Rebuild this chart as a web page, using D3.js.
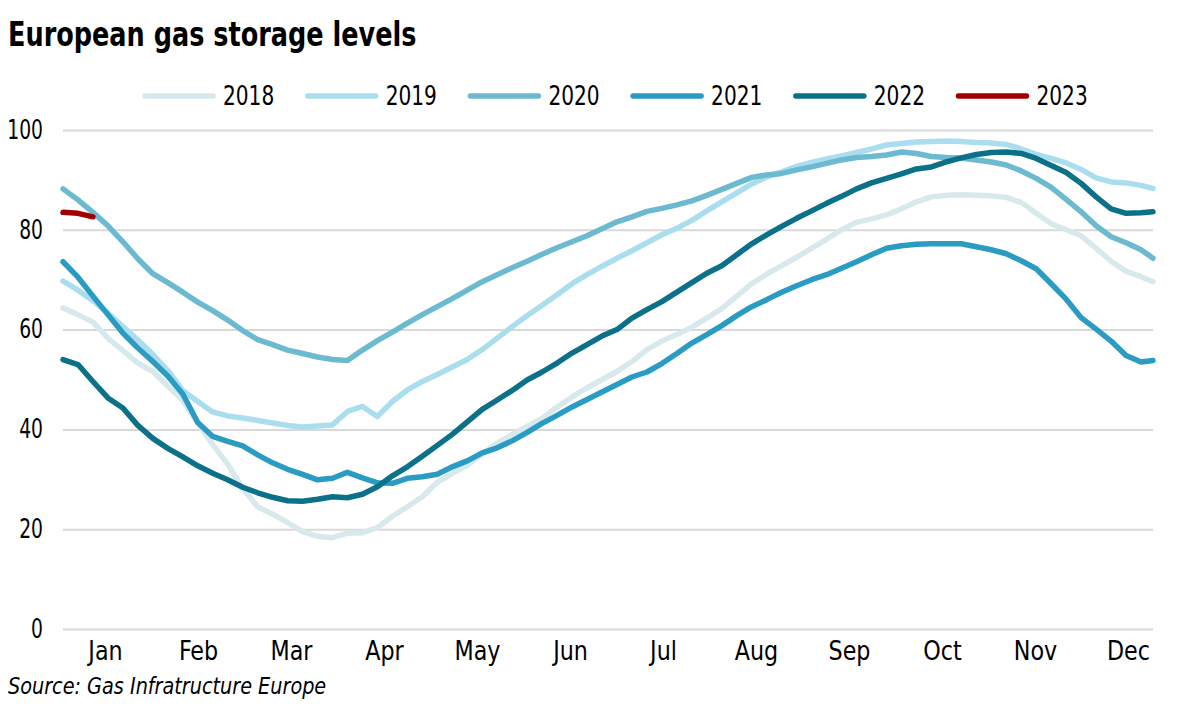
<!DOCTYPE html>
<html>
<head>
<meta charset="utf-8">
<script src="https://cdn.jsdelivr.net/npm/d3@7"></script>
<style>
  body { margin: 0; background: #fff; }
  svg { display: block; font-family: "DejaVu Sans Condensed", "DejaVu Sans", sans-serif; }
  .grid line { stroke: #d9d9d9; stroke-width: 2; }
  .axis text { font-size: 26px; fill: #000; }
</style>
</head>
<body>
<script>
var w = 1200;
var h = 706;

// day of year for every sample (5 day steps)
var days = [1, 6, 11, 16, 21, 26, 31, 36, 41, 46, 51, 56, 61, 66, 71, 76, 81, 86, 91, 96,
  101, 106, 111, 116, 121, 126, 131, 136, 141, 146, 151, 156, 161, 166, 171, 176, 181, 186, 191, 196,
  201, 206, 211, 216, 221, 226, 231, 236, 241, 246, 251, 256, 261, 266, 271, 276, 281, 286, 291, 296,
  301, 306, 311, 316, 321, 326, 331, 336, 341, 346, 351, 356, 361, 365];

var months = ["Jan", "Feb", "Mar", "Apr", "May", "Jun", "Jul", "Aug", "Sep", "Oct", "Nov", "Dec"];
var yTicks = [0, 20, 40, 60, 80, 100];
var years = ["2018", "2019", "2020", "2021", "2022", "2023"];

var s2018 = [64.3, 63.0, 61.5, 58.3, 55.8, 53.3, 51.6, 48.7, 45.8, 41.3, 37.0, 33.0, 28.2, 24.5, 23.0, 21.3, 19.5, 18.6, 18.3, 19.2,
  19.3, 20.3, 22.6, 24.5, 26.5, 29.4, 31.2, 32.8, 35.1, 37.2, 39.0, 40.6, 42.2, 44.5, 46.5, 48.3, 50.0, 51.6, 53.6, 56.0,
  57.7, 59.0, 60.5, 62.3, 64.2, 66.7, 69.2, 71.1, 72.8, 74.5, 76.3, 78.1, 80.0, 81.5, 82.2, 83.0, 84.2, 85.6, 86.6, 86.9,
  87.0, 86.9, 86.8, 86.5, 85.5, 83.3, 81.2, 80.0, 78.8, 76.3, 73.7, 71.7, 70.6, 69.6];

var s2019 = [69.7, 67.9, 65.8, 63.3, 60.6, 57.9, 55.0, 51.8, 47.8, 45.6, 43.5, 42.7, 42.3, 41.8, 41.3, 40.8, 40.5, 40.7, 40.9, 43.6,
  44.6, 42.6, 45.6, 47.9, 49.6, 51.0, 52.5, 54.0, 56.0, 58.3, 60.6, 62.8, 64.9, 67.0, 69.2, 71.0, 72.7, 74.3, 75.8, 77.4,
  79.0, 80.3, 81.9, 83.8, 85.6, 87.4, 89.2, 90.6, 91.6, 92.7, 93.5, 94.2, 94.8, 95.5, 96.2, 97.0, 97.3, 97.6, 97.7, 97.8,
  97.7, 97.5, 97.4, 97.1, 96.2, 95.1, 94.3, 93.4, 92.1, 90.4, 89.6, 89.4, 88.9, 88.3];

var s2020 = [88.2, 86.0, 83.5, 80.8, 77.6, 74.2, 71.2, 69.4, 67.5, 65.5, 63.8, 61.9, 59.8, 58.0, 57.0, 55.9, 55.2, 54.5, 54.0, 53.8,
  55.9, 57.8, 59.5, 61.3, 63.0, 64.6, 66.2, 67.9, 69.6, 71.0, 72.4, 73.7, 75.1, 76.4, 77.6, 78.8, 80.2, 81.6, 82.6, 83.7,
  84.3, 85.0, 85.8, 86.9, 88.1, 89.3, 90.5, 91.0, 91.3, 92.0, 92.6, 93.3, 94.0, 94.5, 94.7, 95.0, 95.6, 95.3, 94.7, 94.5,
  94.4, 94.0, 93.6, 93.0, 91.8, 90.3, 88.5, 86.1, 83.6, 80.8, 78.6, 77.4, 76.0, 74.3];

var s2021 = [73.6, 70.5, 66.7, 63.0, 59.3, 56.3, 53.6, 50.7, 47.1, 41.4, 38.6, 37.6, 36.7, 34.9, 33.3, 32.0, 31.0, 29.9, 30.2, 31.4,
  30.3, 29.3, 29.2, 30.2, 30.5, 31.0, 32.5, 33.7, 35.3, 36.3, 37.7, 39.4, 41.2, 42.8, 44.5, 46.0, 47.5, 49.0, 50.5, 51.5,
  53.2, 55.2, 57.3, 59.0, 60.8, 62.8, 64.6, 66.0, 67.5, 68.8, 70.0, 71.0, 72.3, 73.6, 75.0, 76.3, 76.8, 77.1, 77.2, 77.2,
  77.2, 76.6, 76.0, 75.2, 73.8, 72.2, 69.2, 66.1, 62.4, 60.1, 57.7, 54.8, 53.5, 53.8];

var s2022 = [54.0, 53.0, 49.6, 46.3, 44.3, 40.8, 38.2, 36.2, 34.5, 32.7, 31.2, 29.9, 28.4, 27.3, 26.4, 25.7, 25.6, 26.0, 26.5, 26.3,
  27.0, 28.5, 30.7, 32.5, 34.6, 36.8, 39.0, 41.5, 44.0, 45.9, 47.8, 49.9, 51.5, 53.3, 55.3, 57.0, 58.7, 60.0, 62.3, 64.0,
  65.6, 67.5, 69.4, 71.3, 72.8, 75.0, 77.2, 79.0, 80.7, 82.3, 83.8, 85.3, 86.7, 88.2, 89.4, 90.3, 91.2, 92.2, 92.6, 93.6,
  94.4, 95.1, 95.5, 95.6, 95.3, 94.3, 92.9, 91.5, 89.3, 86.6, 84.2, 83.3, 83.4, 83.6];

var s2023 = [83.5, 83.3, 82.6];

var series = [s2018, s2019, s2020, s2021, s2022, s2023];
var colors = ["#d7e9ed", "#aadeee", "#6cbad0", "#2a9cc3", "#0b7189", "#a00000"];

// squeeze text horizontally to mimic the narrow font of the original
function condense(sel, k) {
  sel.each(function () {
    var len = this.getComputedTextLength();
    d3.select(this).attr("textLength", len * k).attr("lengthAdjust", "spacingAndGlyphs");
  });
}

// Scales
var xScale = d3.scaleLinear().domain([1, 365]).range([63, 1153]);
var yScale = d3.scaleLinear().domain([0, 100]).range([629, 130]);
var monthScale = d3.scalePoint().domain(months).range([105, 1128]);

var svg = d3.select("body").append("svg").attr("width", w).attr("height", h);

// Title
svg.append("text")
  .attr("x", 8)
  .attr("y", 46)
  .attr("font-size", 33)
  .attr("font-weight", "bold")
  .text("European gas storage levels")
  .call(condense, 0.86);

// Gridlines
svg.append("g")
  .attr("class", "grid")
  .attr("transform", "translate(63,0)")
  .call(d3.axisLeft(yScale).tickValues(yTicks).tickSize(-1090).tickFormat(""))
  .call(function (g) { g.select(".domain").remove(); });

// Y labels
var yAxis = svg.append("g")
  .attr("class", "axis")
  .attr("transform", "translate(63,0)")
  .call(d3.axisLeft(yScale).tickValues(yTicks).tickSize(0).tickPadding(20))
  .call(function (g) { g.select(".domain").remove(); });

// X labels
var xAxis = svg.append("g")
  .attr("class", "axis")
  .attr("transform", "translate(0,629)")
  .call(d3.axisBottom(monthScale).tickSize(0).tickPadding(13))
  .call(function (g) { g.select(".domain").remove(); });

d3.selectAll(".axis").attr("font-family", null).attr("font-size", null);
yAxis.selectAll("text").call(condense, 0.8);
xAxis.selectAll("text").call(condense, 0.95);

// Lines
var line = d3.line()
  .x(function (d, i) { return xScale(days[i]); })
  .y(function (d) { return yScale(d); });

svg.append("g")
  .selectAll("path")
  .data(series)
  .enter()
  .append("path")
  .attr("d", line)
  .attr("fill", "none")
  .attr("stroke", function (d, i) { return colors[i]; })
  .attr("stroke-width", 5.5)
  .attr("stroke-linejoin", "round")
  .attr("stroke-linecap", "round");

// Legend
var legend = svg.append("g")
  .selectAll("g")
  .data(years)
  .enter()
  .append("g")
  .attr("transform", function (d, i) { return "translate(" + (145 + i * 162.7) + ",96)"; });

legend.append("line")
  .attr("x1", 0)
  .attr("x2", 68)
  .attr("stroke", function (d, i) { return colors[i]; })
  .attr("stroke-width", 5.5)
  .attr("stroke-linecap", "round");

legend.append("text")
  .attr("x", 78)
  .attr("dy", "0.35em")
  .attr("font-size", 26)
  .text(function (d) { return d; })
  .call(condense, 0.86);

// Source
svg.append("text")
  .attr("x", 8)
  .attr("y", 694)
  .attr("font-size", 23)
  .attr("font-style", "italic")
  .text("Source: Gas Infratructure Europe")
  .call(condense, 0.93);
</script>
</body>
</html>
